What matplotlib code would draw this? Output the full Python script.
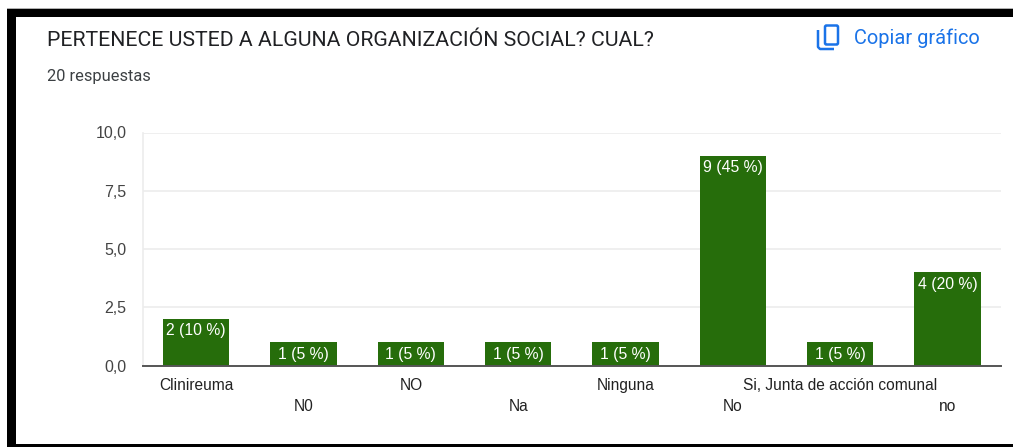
import matplotlib
matplotlib.use('Agg')
import matplotlib.pyplot as plt
from matplotlib.patches import Rectangle, FancyBboxPatch

categories = ['Clinireuma', 'N0', 'NO', 'Na', 'Ninguna', 'No', 'Si, Junta de acción comunal', 'no']
counts = [2, 1, 1, 1, 1, 9, 1, 4]
bar_labels = ['2 (10 %)', '1 (5 %)', '1 (5 %)', '1 (5 %)', '1 (5 %)', '9 (45 %)', '1 (5 %)', '4 (20 %)']
y_ticks = [0, 2.5, 5, 7.5, 10]
y_tick_labels = ['0,0', '2,5', '5,0', '7,5', '10,0']

W, H = 1013, 447
GREEN = '#266d0b'

plt.rcParams['font.family'] = ['Liberation Sans', 'DejaVu Sans']

fig = plt.figure(figsize=(W / 100, H / 100), dpi=100, facecolor='white')

# background layer in pixel coordinates, for the frame and header
bg = fig.add_axes([0, 0, 1, 1])
bg.set_xlim(0, W)
bg.set_ylim(H, 0)
bg.axis('off')
bg.add_patch(Rectangle((7, 9), W - 7, 8, color='black', lw=0))
bg.add_patch(Rectangle((7, 9), 9, H - 9, color='black', lw=0))
bg.add_patch(Rectangle((7, 444), W - 7, 3, color='black', lw=0))
bg.add_patch(Rectangle((7, 8), W - 7, 1, color='#b0b0b0', lw=0))

bg.text(47, 40, 'PERTENECE USTED A ALGUNA ORGANIZACIÓN SOCIAL? CUAL?', family=['Roboto', 'DejaVu Sans'],
        fontsize=15.33, color='#202124', va='center', ha='left')
bg.text(47, 77, '20 respuestas', family=['Roboto', 'DejaVu Sans'], fontsize=11.8,
        color='#3c4043', va='center', ha='left')
bg.text(854, 38, 'Copiar gráfico', family=['Roboto', 'DejaVu Sans'], fontsize=14.4,
        color='#1a73e8', va='center', ha='left')

# copy icon
blue = '#1a73e8'
bg.add_patch(FancyBboxPatch((825, 25.5), 13, 19, boxstyle='round,pad=0,rounding_size=1.5',
                            fill=False, ec=blue, lw=1.8))
bg.plot([818, 818, 820, 834], [30, 47, 49, 49], color=blue, lw=1.8, solid_capstyle='butt')

# chart
left, right, top, bottom = 142.5, 1001.2, 132.5, 365.8
ax = fig.add_axes([left / W, 1 - bottom / H, (right - left) / W, (bottom - top) / H])
ax.patch.set_alpha(0)
x = range(len(categories))
bars = ax.bar(x, counts, width=0.619, color=GREEN, zorder=3)
ax.set_xlim(-0.5, len(categories) - 0.5)
ax.set_ylim(0, 10)
ax.set_yticks(y_ticks)
ax.set_yticklabels(y_tick_labels, fontsize=11.5, color='#444444')
ax.grid(axis='y', color='#ececec', lw=1.2, zorder=0)
ax.set_axisbelow(True)
ax.tick_params(axis='both', length=0)
ax.tick_params(axis='y', pad=11.5)
for name in ['top', 'right']:
    ax.spines[name].set_visible(False)
ax.spines['left'].set_color('#ececec')
ax.spines['left'].set_linewidth(1.2)
ax.spines['bottom'].set_color('#555555')
ax.spines['bottom'].set_linewidth(1.4)
ax.spines['bottom'].set_zorder(5)

ax.set_xticks(list(x))
ax.set_xticklabels([])
for i, name in enumerate(categories):
    y_off = -14.4 if i % 2 == 0 else -29.6
    ax.annotate(name, (i, 0), xytext=(0, y_off), textcoords='offset points',
                ha='center', va='center', fontsize=11.2, color='#222222')

for i, (n, lab) in enumerate(zip(counts, bar_labels)):
    ax.annotate(lab, (i, n), xytext=(0, -8.5), textcoords='offset points',
                ha='center', va='center', fontsize=11.3, color='white', zorder=4)

fig.savefig('out.png', dpi=100)
